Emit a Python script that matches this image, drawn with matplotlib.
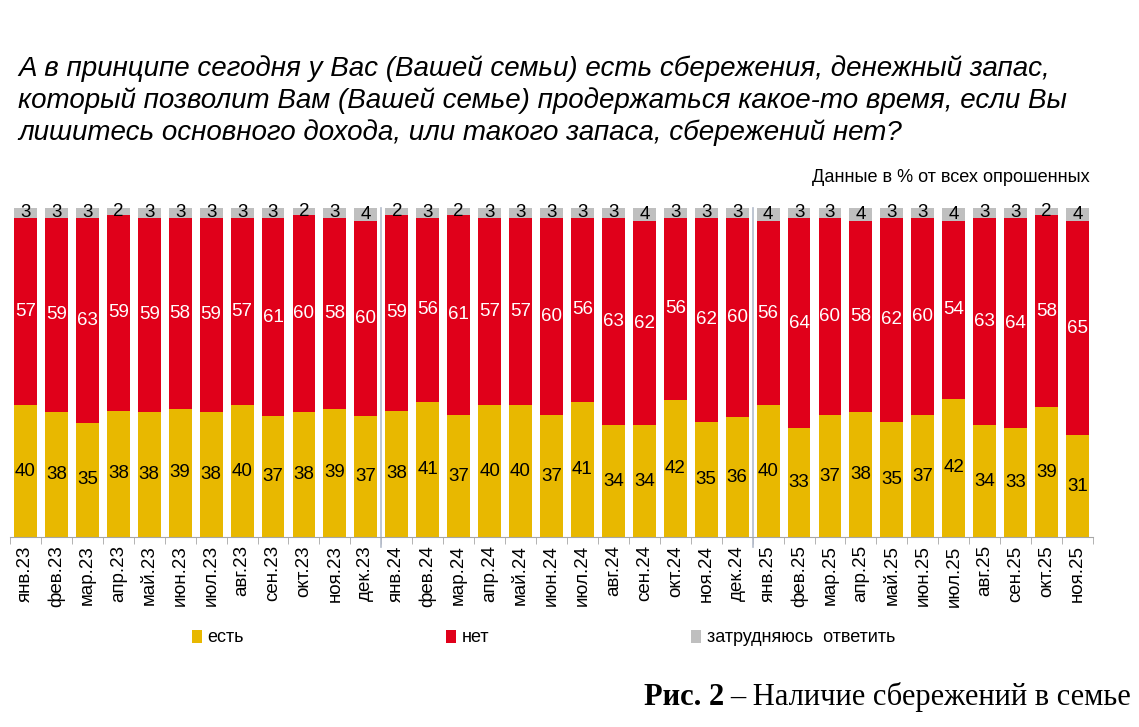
import numpy as np
import matplotlib.pyplot as plt

# months Jan 2023 .. Nov 2025
months = ['янв', 'фев', 'мар', 'апр', 'май', 'июн', 'июл', 'авг', 'сен', 'окт', 'ноя', 'дек']
labels = [f'{m}.{y}' for y in ('23', '24', '25') for m in months][:35]

yes_vals = [40, 38, 35, 38, 38, 39, 38, 40, 37, 38, 39, 37,
            38, 41, 37, 40, 40, 37, 41, 34, 34, 42, 35, 36,
            40, 33, 37, 38, 35, 37, 42, 34, 33, 39, 31]
no_vals = [57, 59, 63, 59, 59, 58, 59, 57, 61, 60, 58, 60,
           59, 56, 61, 57, 57, 60, 56, 63, 62, 56, 62, 60,
           56, 64, 60, 58, 62, 60, 54, 63, 64, 58, 65]
hard_vals = [3, 3, 3, 2, 3, 3, 3, 3, 3, 2, 3, 4,
             2, 3, 2, 3, 3, 3, 3, 3, 4, 3, 3, 3,
             4, 3, 3, 4, 3, 3, 4, 3, 3, 2, 4]

series_names = ['есть', 'нет', 'затрудняюсь  ответить']
colors = ['#E8B800', '#E0001A', '#BFBFBF']
label_colors = ['black', 'white', 'black']

plt.rcParams['font.family'] = ['Liberation Sans', 'DejaVu Sans']

W, H = 1139, 727
fig = plt.figure(figsize=(W / 100, H / 100), dpi=100)
ax = fig.add_axes([10 / W, (H - 537) / H, 1083 / W, 329 / H])

data = np.array([yes_vals, no_vals, hard_vals], dtype=float)
share = data / data.sum(axis=0) * 100  # 100% stacked, like the source
x = np.arange(len(labels))

bottom = np.zeros(len(labels))
handles = []
for i in range(3):
    bars = ax.bar(x, share[i], 0.74, bottom=bottom, color=colors[i], label=series_names[i])
    handles.append(bars)
    for xi, b, h, v in zip(x, bottom, share[i], data[i]):
        ax.text(xi, b + h / 2, f'{int(v)}', ha='center', va='center',
                fontsize=13.5, color=label_colors[i])
    bottom += share[i]

# year separators
for sep in (11.5, 23.5):
    ax.axvline(sep, ymin=-0.03, ymax=1.0, color='#B4BCCB', lw=1.2, clip_on=False)

ax.set_xlim(-0.5, len(labels) - 0.5)
ax.set_ylim(0, 100)
ax.set_yticks([])
for s in ('top', 'right', 'left'):
    ax.spines[s].set_visible(False)
ax.spines['bottom'].set_color('#A6A6A6')

ax.set_xticks(x)
ax.set_xticklabels(labels, rotation=90, fontsize=13.5)
ax.tick_params(axis='x', length=0, pad=6)
ax.set_xticks(np.arange(-0.5, len(labels), 1), minor=True)
ax.tick_params(axis='x', which='minor', length=5, color='#A6A6A6', direction='out')

leg = fig.legend(handles=handles, loc='center left', bbox_to_anchor=(176 / W, 1 - 638 / H),
                 ncol=3, frameon=False, fontsize=13, handlelength=0.55, handleheight=0.75,
                 handletextpad=0.3, columnspacing=11.2)

title = ('А в принципе сегодня у Вас (Вашей семьи) есть сбережения, денежный запас,\n'
         'который позволит Вам (Вашей семье) продержаться какое-то время, если Вы\n'
         'лишитесь основного дохода, или такого запаса, сбережений нет?')
fig.text(18 / W, 1 - 55 / H, title, ha='left', va='top', fontsize=20,
         style='italic', linespacing=1.26)

fig.text(1090 / W, 1 - 178 / H, 'Данные в % от всех опрошенных', ha='right',
         va='center', fontsize=13.1)

cap = fig.text(1131, H - 705, '– Наличие сбережений в семье', ha='right',
               va='baseline', fontsize=22, family='Liberation Serif', transform=None)
fig.canvas.draw()
bb = cap.get_window_extent()
fig.text(bb.x0 - 6, H - 705, 'Рис. 2', ha='right', va='baseline', fontsize=22,
         family='Liberation Serif', weight='bold', transform=None)

fig.savefig('out.png', dpi=100)
